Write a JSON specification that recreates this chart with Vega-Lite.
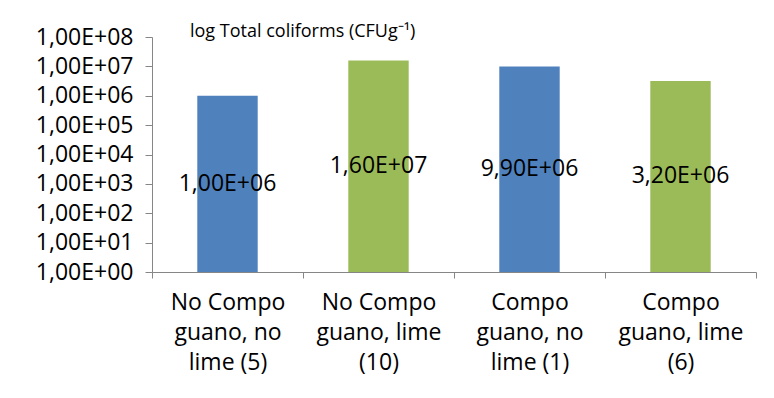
{
  "$schema": "https://vega.github.io/schema/vega-lite/v6.json",
  "width": 604,
  "height": 235,
  "autosize": {"type": "none"},
  "padding": {"left": 152, "top": 37, "right": 18, "bottom": 126},
  "background": "white",
  "config": {"view": {"stroke": null}, "font": "Open Sans"},
  "title": {"text": "log Total coliforms (CFUg⁻¹)", "anchor": "start", "frame": "group", "dx": 38, "offset": -15, "fontSize": 18, "fontWeight": "normal", "font": "Open Sans", "color": "black"},
  "data": {"values": [
    {"treatment": "No Compo|guano, no|lime (5)", "lime": "no lime", "value": 1000000, "label": "1,00E+06"},
    {"treatment": "No Compo|guano, lime|(10)", "lime": "lime", "value": 16000000, "label": "1,60E+07"},
    {"treatment": "Compo|guano, no|lime (1)", "lime": "no lime", "value": 9900000, "label": "9,90E+06"},
    {"treatment": "Compo|guano, lime|(6)", "lime": "lime", "value": 3200000, "label": "3,20E+06"}
  ]},
  "transform": [{"calculate": "sqrt(datum.value)", "as": "mid"}],
  "encoding": {
    "x": {"field": "treatment", "type": "nominal", "sort": null,
      "scale": {"paddingInner": 0, "paddingOuter": 0},
      "axis": {"title": null, "labelExpr": "split(datum.label, '|')", "labelAngle": 0, "tickBand": "extent", "tickSize": 6, "labelPadding": 13, "labelLineHeight": 30, "labelFontSize": 23, "labelBaseline": "top", "labelColor": "black", "domainColor": "#868686", "tickColor": "#868686", "labelFont": "Open Sans"}}
  },
  "layer": [
    {"mark": {"type": "bar", "width": {"band": 0.4}},
     "encoding": {
       "y": {"field": "value", "type": "quantitative",
         "scale": {"type": "log", "domain": [1, 100000000]},
         "axis": {"title": null, "values": [1, 10, 100, 1000, 10000, 100000, 1000000, 10000000, 100000000], "labelExpr": "replace(replace(format(datum.value, '.2e'), '.', ','), 'e+', 'E+0')", "tickSize": 7, "labelPadding": 12, "grid": false, "domainColor": "#868686", "tickColor": "#868686", "labelFontSize": 23, "labelColor": "black", "labelFont": "Open Sans"}},
       "y2": {"datum": 1},
       "color": {"field": "lime", "type": "nominal", "scale": {"domain": ["no lime", "lime"], "range": ["#4F81BD", "#9BBB59"]}, "legend": null}
     }},
    {"mark": {"type": "text", "fontSize": 23, "color": "black", "font": "Open Sans"},
     "encoding": {
       "y": {"field": "mid", "type": "quantitative", "scale": {"type": "log", "domain": [1, 100000000]}},
       "text": {"field": "label", "type": "nominal"}
     }}
  ]
}
